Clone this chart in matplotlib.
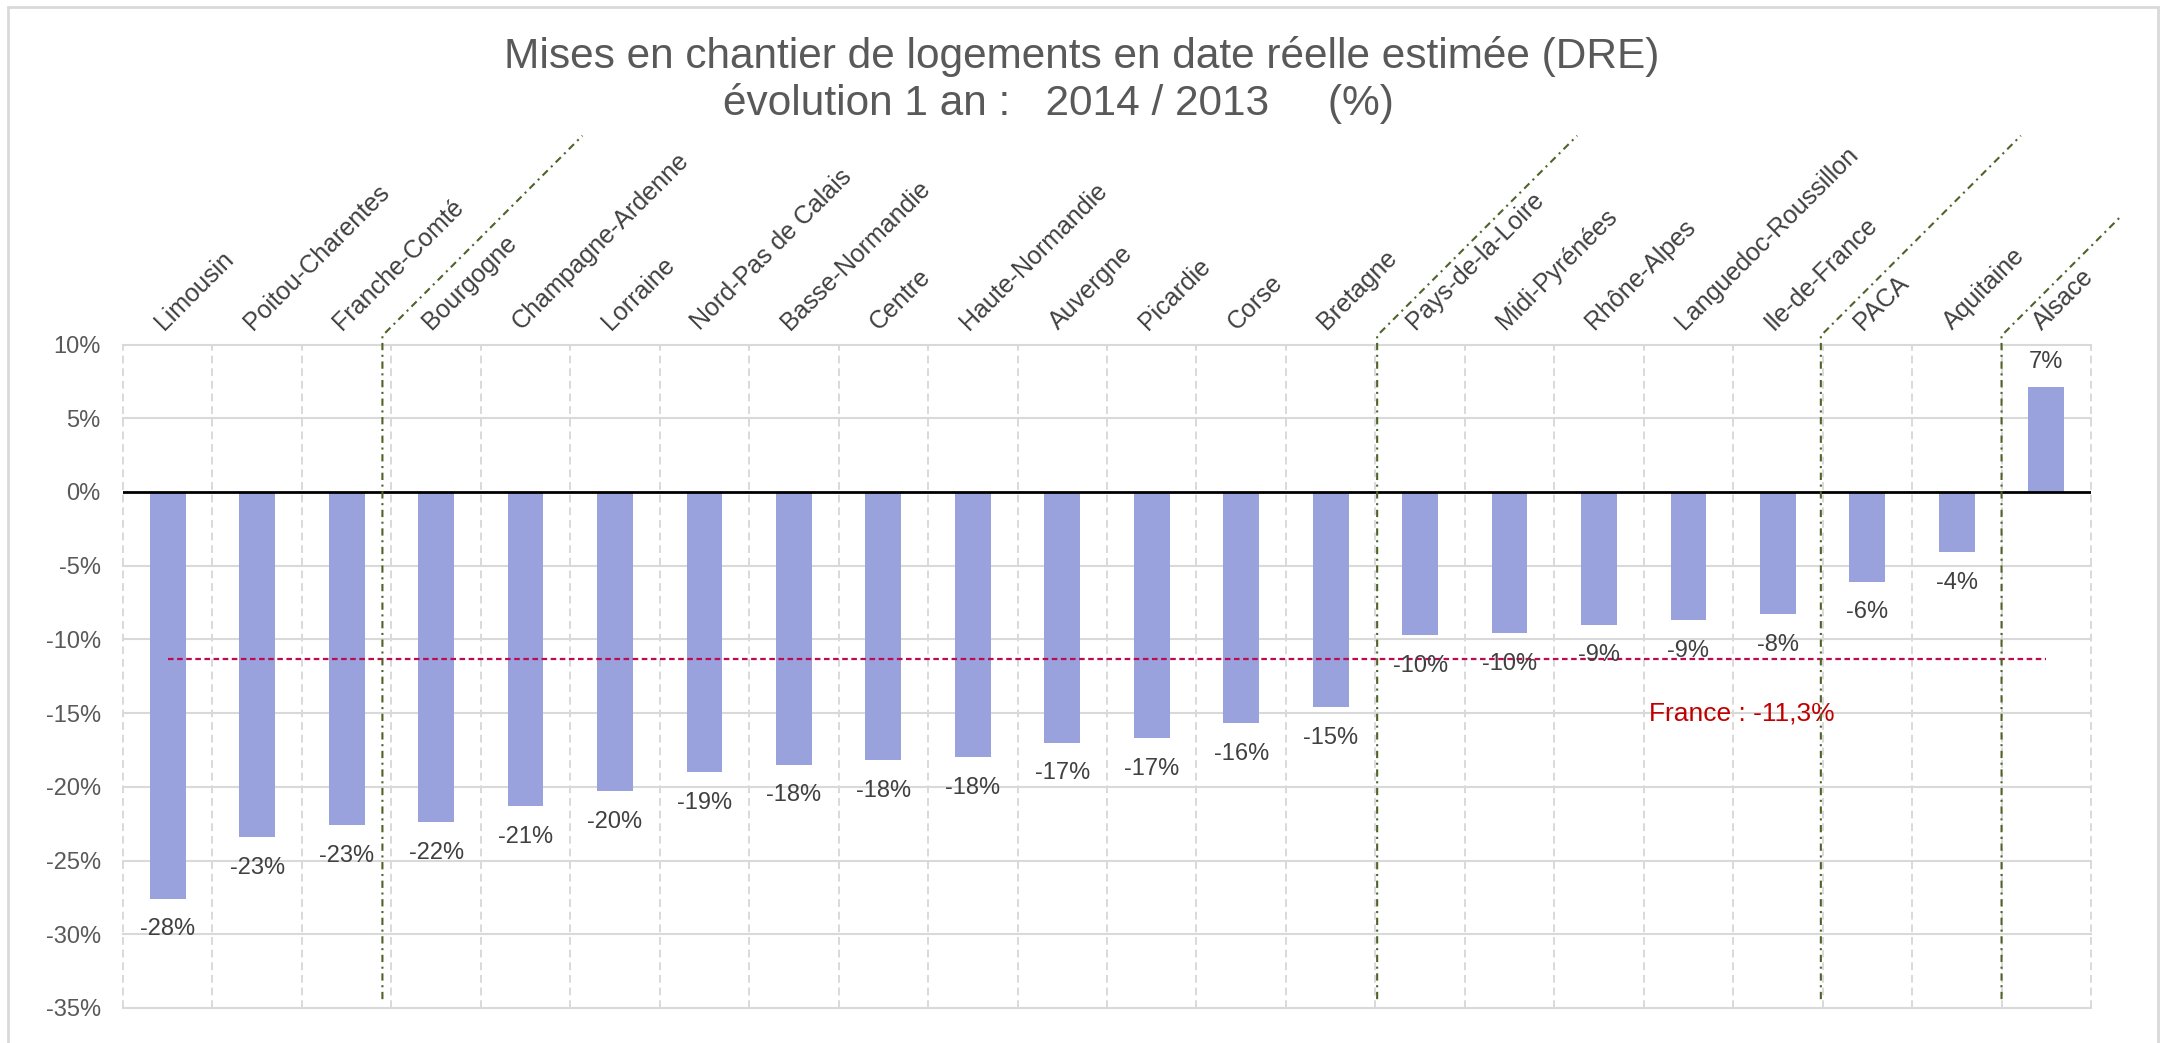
import matplotlib
matplotlib.use("Agg")
import matplotlib.pyplot as plt
from matplotlib.lines import Line2D
from matplotlib.patches import Rectangle
from matplotlib.transforms import IdentityTransform
import numpy as np

plt.rcParams['font.family'] = ['Liberation Sans', 'DejaVu Sans']

regions = ["Limousin", "Poitou-Charentes", "Franche-Comté", "Bourgogne",
           "Champagne-Ardenne", "Lorraine", "Nord-Pas de Calais", "Basse-Normandie",
           "Centre", "Haute-Normandie", "Auvergne", "Picardie", "Corse", "Bretagne",
           "Pays-de-la-Loire", "Midi-Pyrénées", "Rhône-Alpes", "Languedoc-Roussillon",
           "Ile-de-France", "PACA", "Aquitaine", "Alsace"]
values = [-27.6, -23.4, -22.6, -22.4, -21.3, -20.3, -19.0, -18.5, -18.2, -18.0,
          -17.0, -16.7, -15.7, -14.6, -9.7, -9.6, -9.0, -8.7, -8.3, -6.1, -4.1, 7.1]
france_avg = -11.3
france_label = "France : -11,3%"
group_separators = [2.4, 13.52, 18.48, 20.5]
yticks = [10, 5, 0, -5, -10, -15, -20, -25, -30, -35]

W, H = 2163, 1043
fig = plt.figure(figsize=(W / 100, H / 100), dpi=100)
ax = fig.add_axes([123 / W, 1 - 1008 / H, (2091 - 123) / W, (1008 - 344.5) / H])

n = len(regions)
x = np.arange(n)
ax.set_xlim(-0.5, n - 0.5)
ax.set_ylim(-35, 10)

grid_c = '#D9D9D9'
# horizontal grid
for t in yticks:
    if t == 0:
        continue
    ax.axhline(t, color=grid_c, lw=1.5, zorder=1, clip_on=False)
# vertical dashed separators
for b in np.arange(-0.5, n, 1.0):
    ax.plot([b, b], [-35, 10], color=grid_c, lw=1.4, ls=(0, (4, 2.5)),
            zorder=1, clip_on=False)

for s in ax.spines.values():
    s.set_visible(False)

ax.bar(x, values, width=0.4, color='#99A2DC', zorder=2)
ax.axhline(0, color='black', lw=2, zorder=3)

# France average line
ax.plot(x, [france_avg] * n, color='#BE0A50', lw=1.6, ls=(0, (2.5, 1.6)), zorder=4)
ax.text(17.6, -15.0, france_label, color='#C00000', fontsize=19,
        ha='center', va='center', zorder=6)

# data labels
for xi, v in zip(x, values):
    lab = f"{round(v):.0f}%"
    if v < 0:
        ax.annotate(lab, (xi, v), xytext=(0, -22), textcoords='offset points',
                    ha='center', va='center', fontsize=17, color='#404040', zorder=6)
    else:
        ax.annotate(lab, (xi, v), xytext=(0, 18), textcoords='offset points',
                    ha='center', va='center', fontsize=17, color='#404040', zorder=6)

# y ticks
ax.set_yticks(yticks)
ax.set_yticklabels([f"{t}%" for t in yticks], fontsize=17, color='#595959')
ax.tick_params(axis='y', length=0, pad=16)
ax.set_xticks([])

# category labels on top
for xi, name in zip(x, regions):
    ax.annotate(name, (xi, 1), xycoords=('data', 'axes fraction'),
                xytext=(-3, 10), textcoords='offset points',
                rotation=45, rotation_mode='anchor', ha='left', va='baseline',
                fontsize=18, color='#404040', annotation_clip=False)

# title
fig.text(0.5, 1 - 68 / H, "Mises en chantier de logements en date réelle estimée (DRE)",
         ha='center', va='baseline', fontsize=30.5, color='#595959')
fig.text((1081.5 - 23) / W, 1 - 115 / H, "évolution 1 an :   2014 / 2013     (%)",
         ha='center', va='baseline', fontsize=30.5, color='#595959')

# group separator lines (vertical + diagonal toward labels)
diag = [200, 200, 200, 120]
for xs, d in zip(group_separators, diag):
    p0 = ax.transData.transform((xs, -34.4))
    p1 = ax.transData.transform((xs, 10.6))
    p2 = (p1[0] + d, p1[1] + d)
    ln = Line2D([p0[0], p1[0], p2[0]], [p0[1], p1[1], p2[1]],
                transform=IdentityTransform(), color='#4F6228', lw=1.5,
                ls=(0, (3.5, 2.2, 1, 2.2)), zorder=7)
    fig.add_artist(ln)

# outer border
fig.add_artist(Rectangle((8 / W, -0.02), (2158 - 8) / W, 1 - 7 / H + 0.02,
                         transform=fig.transFigure, fill=False,
                         ec=grid_c, lw=2))

fig.savefig("out.png", dpi=100)
